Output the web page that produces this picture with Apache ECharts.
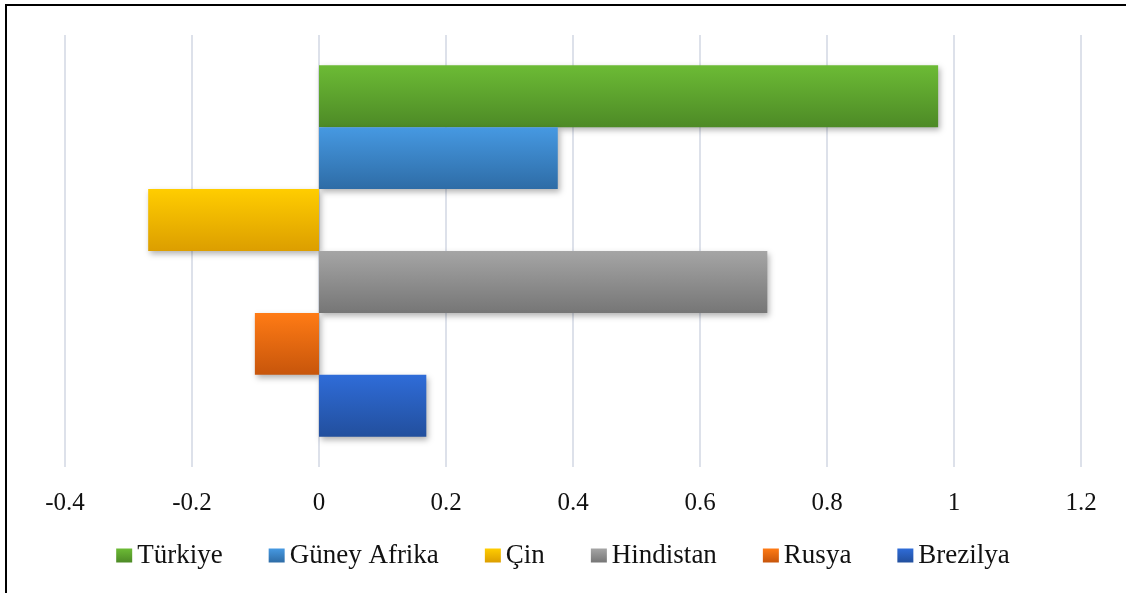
<!DOCTYPE html>
<html>
<head>
<meta charset="utf-8">
<script src="https://cdn.jsdelivr.net/npm/echarts@6/dist/echarts.min.js"></script>
<style>
  html, body { margin: 0; padding: 0; background: #fff; }
  #chart { width: 1126px; height: 593px; }
</style>
</head>
<body>
<div id="chart"></div>
<script>
// ülkeler (legend sırası)
var countries = ['Türkiye', 'Güney Afrika', 'Çin', 'Hindistan', 'Rusya', 'Brezilya'];
var values = [0.975, 0.376, -0.269, 0.706, -0.101, 0.169];
var xTicks = [-0.4, -0.2, 0, 0.2, 0.4, 0.6, 0.8, 1, 1.2];
// renkler: üst açık, alt koyu
var topColors = ['#6cbb35', '#4699e2', '#ffcd00', '#a5a5a5', '#ff7b15', '#2f6cd8'];
var bottomColors = ['#4d8a26', '#2e6ca6', '#dc9e00', '#767676', '#c7550b', '#224f9d'];

var chart = echarts.init(document.getElementById('chart'));

var series = [];
for (var i = 0; i < countries.length; i++) {
    series.push({
        name: countries[i],
        type: 'bar',
        data: [values[i]],
        barGap: '0%',
        barCategoryGap: '14%',
        itemStyle: {
            color: new echarts.graphic.LinearGradient(0, 0, 0, 1, [
                { offset: 0, color: topColors[i] },
                { offset: 1, color: bottomColors[i] }
            ]),
            shadowBlur: 6,
            shadowColor: 'rgba(0,0,0,0.3)',
            shadowOffsetX: 2,
            shadowOffsetY: 3
        }
    });
}

var option = {
    animation: false,
    textStyle: { fontFamily: 'Liberation Serif' },
    grid: { left: 65, right: 45, top: 35, bottom: 126 },
    legend: {
        data: countries,
        bottom: 19,
        left: 'center',
        icon: 'rect',
        itemWidth: 16,
        itemHeight: 14,
        itemGap: 46,
        textStyle: { fontSize: 27, color: '#111', fontFamily: 'Liberation Serif' }
    },
    xAxis: {
        type: 'value',
        min: xTicks[0],
        max: xTicks[xTicks.length - 1],
        interval: 0.2,
        axisLine: { show: false },
        axisTick: { show: false },
        splitLine: { lineStyle: { color: '#dde1ea', width: 2 } },
        axisLabel: {
            fontSize: 25,
            color: '#111',
            margin: 24,
            formatter: function (v) { return String(Math.round(v * 10) / 10); }
        }
    },
    yAxis: {
        type: 'category',
        data: [''],
        inverse: true,
        axisLine: { show: false },
        axisTick: { show: false },
        axisLabel: { show: false }
    },
    graphic: [{
        type: 'rect',
        shape: { x: 6, y: 5, width: 1140, height: 620 },
        style: { fill: 'none', stroke: '#000', lineWidth: 2 },
        silent: true
    }],
    series: series
};

chart.setOption(option);
</script>
</body>
</html>
